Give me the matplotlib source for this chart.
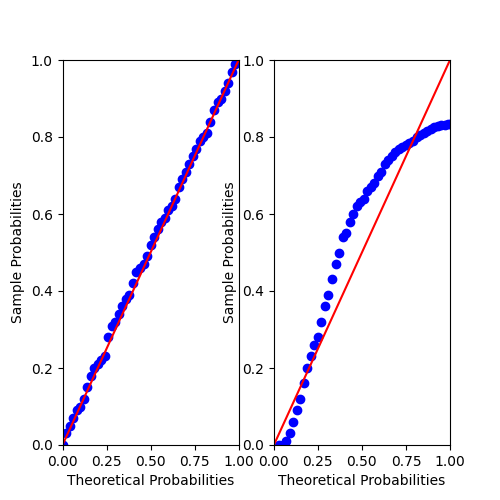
import matplotlib
matplotlib.use("Agg")
import matplotlib.pyplot as plt

left_x = [i/50 for i in range(51)]
left_y = [0.0,0.03,0.05,0.07,0.09,0.10,0.12,0.15,0.18,0.20,0.21,0.22,0.23,0.28,0.31,0.32,0.34,0.36,0.38,0.39,
          0.42,0.45,0.46,0.47,0.49,0.52,0.54,0.56,0.58,0.59,0.61,0.62,0.64,0.67,0.69,0.71,0.73,0.75,0.77,0.79,
          0.80,0.81,0.84,0.87,0.89,0.90,0.92,0.94,0.97,0.99,1.0]

right_x = [0.03,0.05,0.07,0.09,0.11,0.13,0.15,0.17,0.19,0.21,0.23,0.25,0.27,0.29,0.31,0.33,0.35,0.37,0.39,0.41,
           0.43,0.45,0.47,0.49,0.51,0.53,0.55,0.57,0.59,0.61,0.63,0.65,0.67,0.69,0.71,0.73,0.75,0.77,0.79,0.81,
           0.83,0.85,0.87,0.89,0.91,0.93,0.95,0.97,0.99,1.0]
right_y = [0.0,0.0,0.01,0.03,0.06,0.09,0.12,0.16,0.20,0.23,0.26,0.28,0.32,0.36,0.39,0.43,0.47,0.50,0.54,0.55,
           0.58,0.60,0.62,0.63,0.64,0.66,0.67,0.68,0.70,0.71,0.73,0.74,0.75,0.76,0.77,0.775,0.78,0.785,0.79,0.80,
           0.805,0.81,0.815,0.82,0.825,0.828,0.83,0.832,0.834,0.835]

fig, axes = plt.subplots(1, 2, figsize=(5, 5), dpi=100)
for ax, xs, ys in [(axes[0], left_x, left_y), (axes[1], right_x, right_y)]:
    ax.plot(xs, ys, 'bo', markersize=6)
    ax.plot([0, 1], [0, 1], 'r-')
    ax.set_xlim(0, 1)
    ax.set_ylim(0, 1)
    ax.set_xlabel("Theoretical Probabilities")
    ax.set_ylabel("Sample Probabilities")
fig.savefig("out.png")
